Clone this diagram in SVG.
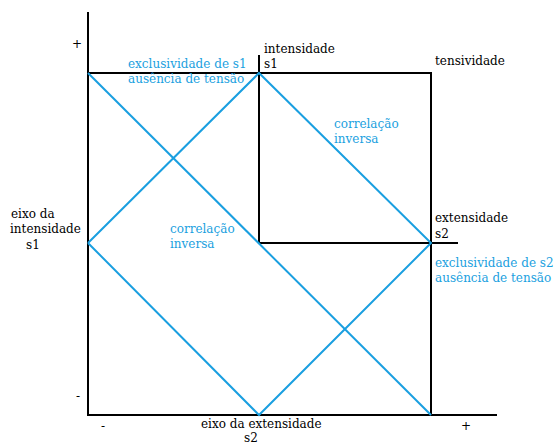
<svg xmlns="http://www.w3.org/2000/svg" width="557" height="444" viewBox="0 0 557 444">
<style>
.k{stroke:#000;stroke-width:2;fill:none}
.b{stroke:#1a9fe0;stroke-width:2;fill:none}
text{font-family:"DejaVu Serif","Liberation Serif",serif;font-size:12px;fill:#000}
.t{fill:#1a9fe0}
</style>
<rect width="557" height="444" fill="#fff"/>
<g id="connectors">
<path class="k" d="M88 12V415H497"/>
<path class="k" d="M88 73H431V415"/>
<path class="k" d="M259 55V243H458"/>
<path class="b" d="M88 73L431 415"/>
<path class="b" d="M88 243L259 73L431 243L259 415L88 243"/>
</g>
<g id="labels">
<text x="72" y="48">+</text>
<text x="76" y="400">-</text>
<text x="101" y="430">-</text>
<text x="461" y="430">+</text>
<text class="t" x="128" y="68">exclusividade de s1</text>
<text class="t" x="128" y="83">ausência de tensão</text>
<text x="264" y="53">intensidade</text>
<text x="264" y="68">s1</text>
<text x="435" y="65">tensividade</text>
<text class="t" x="334" y="128">correlação</text>
<text class="t" x="334" y="143">inversa</text>
<text x="11" y="218">eixo da</text>
<text x="10" y="233">intensidade</text>
<text x="26" y="249">s1</text>
<text class="t" x="170" y="233">correlação</text>
<text class="t" x="170" y="248">inversa</text>
<text x="435" y="222">extensidade</text>
<text x="435" y="238">s2</text>
<text class="t" x="435" y="267">exclusividade de s2</text>
<text class="t" x="435" y="282">ausência de tensão</text>
<text x="201" y="428">eixo da extensidade</text>
<text x="244" y="442">s2</text>
</g>
</svg>
